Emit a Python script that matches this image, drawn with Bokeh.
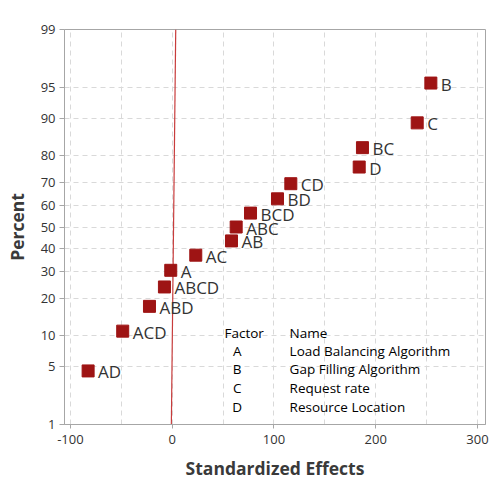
from statistics import NormalDist
from bokeh.plotting import figure
from bokeh.models import Range1d, FixedTicker, CustomJSTickFormatter, ColumnDataSource, Label
from bokeh.core.properties import value
from bokeh.embed import file_html
from bokeh.resources import INLINE

# ---- data ----
terms = ["AD", "ACD", "ABD", "ABCD", "A", "AC", "AB", "ABC", "BCD", "BD", "CD", "D", "BC", "C", "B"]
effects = [-82.6, -48.6, -22.3, -7.6, -1.4, 23.2, 58.3, 62.9, 77.0, 103.5, 116.6, 183.8, 187.0, 240.8, 254.2]
percents = [4.5, 11.0, 17.5, 24.0, 30.5, 37.0, 43.5, 50.0, 56.5, 63.0, 69.5, 76.0, 82.5, 89.0, 95.5]
fit_x = [-0.8, 3.5]
fit_pct = [1, 99]
y_tick_pct = [1, 5, 10, 20, 30, 40, 50, 60, 70, 80, 90, 95, 99]
x_ticks = [-100, 0, 100, 200, 300]
x_grid = [-100, -50, 0, 50, 100, 150, 200, 250, 300]
factor_codes = ["A", "B", "C", "D"]
factor_names = ["Load Balancing Algorithm", "Gap Filling Algorithm", "Request rate", "Resource Location"]

nd = NormalDist()
def z(p):
    return nd.inv_cdf(p / 100.0)

FONT = "Open Sans"
RED = "#9e1414"
GRAY = "#a6a6a6"
TXT = "#333333"

p = figure(width=497, height=482, output_backend="svg", toolbar_location=None,
           x_range=Range1d(-105.8, 307.9), y_range=Range1d(z(1), z(99)),
           min_border_left=64, min_border_right=12, min_border_top=29, min_border_bottom=58,
           background_fill_color="white", border_fill_color="white")
p.outline_line_color = GRAY
p.outline_line_width = 1

# grid
p.xgrid.ticker = FixedTicker(ticks=x_grid)
p.ygrid.ticker = FixedTicker(ticks=[z(v) for v in y_tick_pct])
for g in (p.xgrid, p.ygrid):
    g.grid_line_color = "#d9d9d9"
    g.grid_line_dash = "5 4"
    g.grid_line_width = 1

# axes
p.xaxis.ticker = FixedTicker(ticks=x_ticks)
p.xaxis.formatter = CustomJSTickFormatter(code="return String(Math.round(tick));")
p.yaxis.ticker = FixedTicker(ticks=[z(v) for v in y_tick_pct])
p.yaxis.formatter = CustomJSTickFormatter(
    args=dict(zs=[z(v) for v in y_tick_pct], labs=[str(v) for v in y_tick_pct]),
    code="for (let i = 0; i < zs.length; i++) { if (Math.abs(tick - zs[i]) < 1e-6) return labs[i]; } return '';")
for ax in (p.xaxis, p.yaxis):
    ax.axis_line_color = GRAY
    ax.major_tick_line_color = GRAY
    ax.minor_tick_line_color = None
    ax.major_tick_in = 0
    ax.major_tick_out = 5
    ax.major_label_text_font = FONT
    ax.major_label_text_font_size = "13px"
    ax.major_label_text_color = TXT
    ax.axis_label_text_font = FONT
    ax.axis_label_text_font_size = "17.5px"
    ax.axis_label_text_font_style = "bold"
    ax.axis_label_text_color = "#3a3a3a"
p.xaxis.major_tick_out = 4
p.xaxis.major_label_standoff = 6
p.yaxis.major_label_standoff = 4
p.xaxis.axis_label = "Standardized Effects"
p.yaxis.axis_label = "Percent"
p.xaxis.axis_label_standoff = 9
p.yaxis.axis_label_standoff = 9

# fitted reference line
p.line(x=fit_x, y=[z(v) for v in fit_pct], line_color="#c83c3c", line_width=1.2)

# points
src = ColumnDataSource(dict(x=effects, y=[z(v) for v in percents], t=terms))
p.scatter(x="x", y="y", source=src, marker="square", size=12,
          fill_color=RED, line_color=RED, line_width=1)
p.text(x="x", y="y", text="t", source=src, x_offset=10, y_offset=1,
       text_baseline="middle", text_align="left", text_font=value(FONT),
       text_font_size="17px", text_color=TXT)

# factor table
row_z = [-1.254, -1.455, -1.678, -1.902, -2.126]
LBL = dict(text_font=FONT, text_font_size="13.5px", text_color="black", text_baseline="middle")
p.add_layout(Label(x=51.4, y=row_z[0], text="Factor", text_align="left", **LBL))
p.add_layout(Label(x=115.4, y=row_z[0], text="Name", text_align="left", **LBL))
for i, (c, n) in enumerate(zip(factor_codes, factor_names)):
    p.add_layout(Label(x=63.9, y=row_z[i + 1], text=c, text_align="center", **LBL))
    p.add_layout(Label(x=115.4, y=row_z[i + 1], text=n, text_align="left", **LBL))

open("out.html", "w").write(file_html(p, INLINE))
